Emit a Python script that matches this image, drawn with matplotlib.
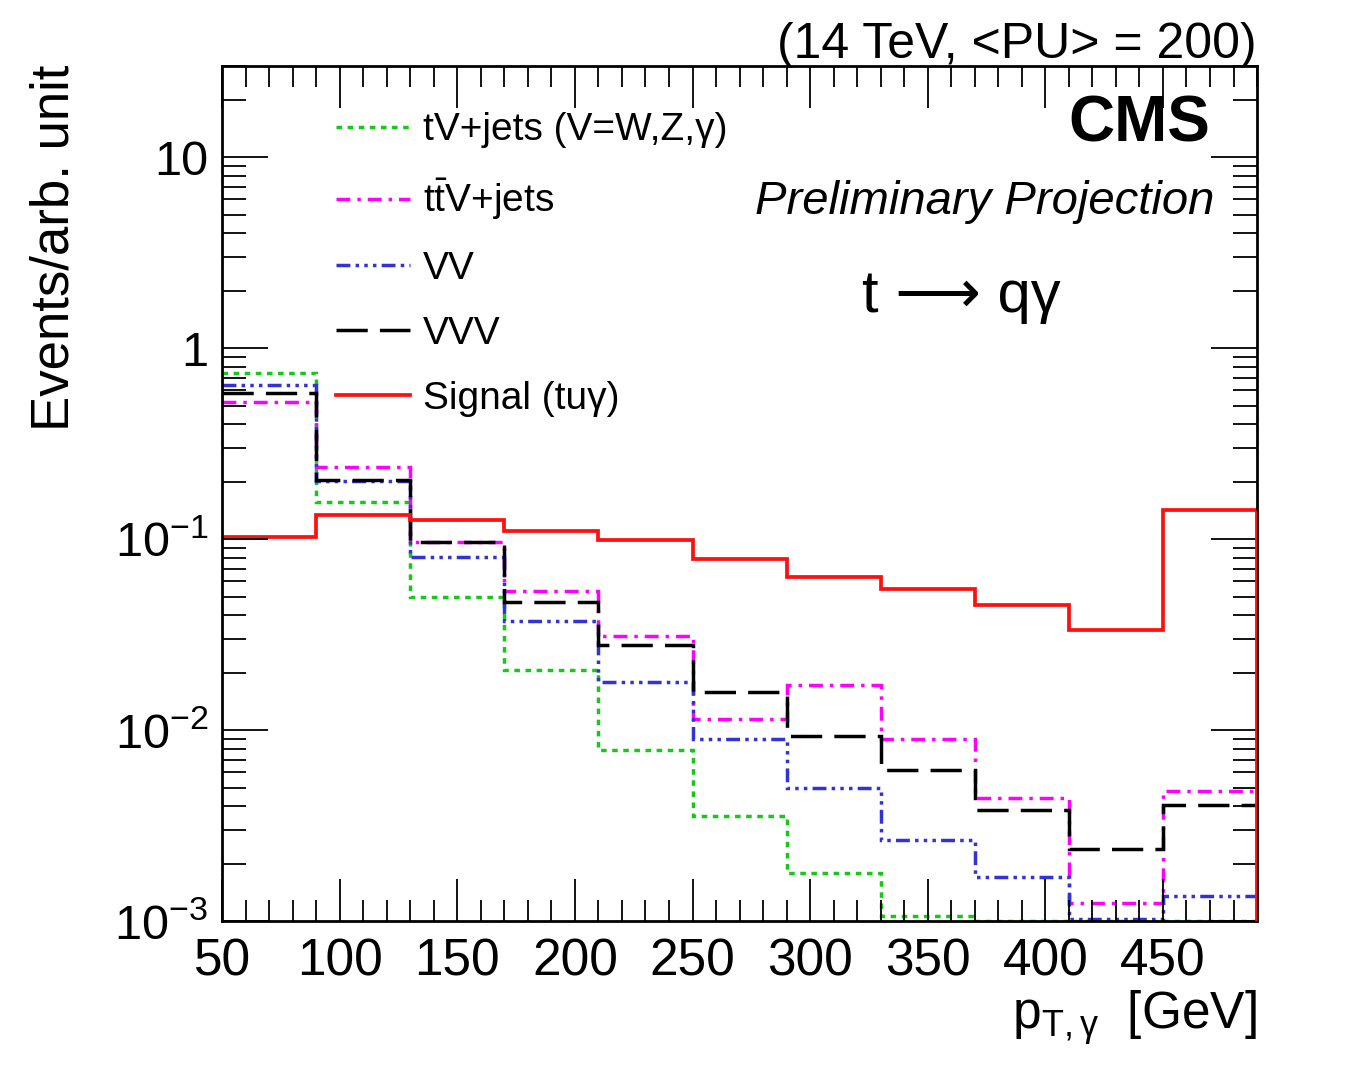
import numpy as np
import matplotlib
matplotlib.use("Agg")
import matplotlib.pyplot as plt
from matplotlib.ticker import FixedLocator, FuncFormatter, LogLocator, NullFormatter

plt.rcParams['font.family'] = ['Liberation Sans', 'DejaVu Sans']
plt.rcParams['mathtext.fontset'] = 'custom'
plt.rcParams['mathtext.rm'] = 'Liberation Sans'
plt.rcParams['mathtext.it'] = 'Liberation Sans:italic'

# photon pT bins (GeV)
edges = [50, 90, 130, 170, 210, 250, 290, 330, 370, 410, 450, 490]

tv_jets = [0.740, 0.156, 0.0498, 0.0206, 0.00785, 0.00354, 0.00178, 0.00106, 0.001, 0.001, 0.001]
ttv_jets = [0.523, 0.239, 0.0966, 0.0535, 0.0310, 0.0114, 0.0172, 0.00896, 0.00440, 0.00125, 0.00478]
vv = [0.642, 0.202, 0.0805, 0.0372, 0.0178, 0.00896, 0.00496, 0.00265, 0.00171, 0.00102, 0.00135]
vvv = [0.583, 0.204, 0.0966, 0.0468, 0.0279, 0.0158, 0.00929, 0.00616, 0.00380, 0.00237, 0.00403]
signal = [0.102, 0.134, 0.126, 0.110, 0.0989, 0.0787, 0.0632, 0.0547, 0.0451, 0.0334, 0.142]

labels = ["tV+jets (V=W,Z,γ)", r"t$\bar{\rm t}$V+jets", "VV", "VVV", "Signal (tuγ)"]

ymin, ymax = 1e-3, 30

fig = plt.figure(figsize=(13.64, 10.87), dpi=100)
ax = fig.add_axes([0.1628, 0.1527, 0.7588, 0.7866])

ax.stairs(tv_jets, edges, baseline=None, color='#18c818', lw=2.5,
          linestyle=(0, (1.6, 1.6)), label=labels[0])
ax.stairs(ttv_jets, edges, baseline=None, color='#ff00ff', lw=2.5,
          linestyle=(0, (4, 2, 1, 2)), label=labels[1])
ax.stairs(vv, edges, baseline=None, color='#3232d6', lw=2.5,
          linestyle=(0, (4, 1.5, 1, 1.5, 1, 1.5, 1, 1.5)), label=labels[2])
ax.stairs(vvv, edges, baseline=None, color='black', lw=2.5,
          linestyle=(0, (9, 3.5)), label=labels[3])
ax.stairs(signal, edges, baseline=None, color='#ff1010', lw=2.7, label=labels[4])
ax.vlines(edges[-1], ymin, signal[-1], color='#ff1010', lw=3.5, zorder=5)

ax.set_yscale('log')
ax.set_xlim(edges[0], edges[-1])
ax.set_ylim(ymin, ymax)

ax.xaxis.set_major_locator(FixedLocator(np.arange(50, 451, 50)))
ax.xaxis.set_minor_locator(FixedLocator(np.arange(50, 491, 10)))
ax.yaxis.set_major_locator(LogLocator(base=10, numticks=10))
ax.yaxis.set_minor_locator(LogLocator(base=10, subs=np.arange(2, 10), numticks=20))
ax.yaxis.set_minor_formatter(NullFormatter())


def ylab(v, pos):
    e = int(round(np.log10(v)))
    if e == 1:
        return "10"
    if e == 0:
        return "1"
    return r"$10^{%d}$" % e


ax.yaxis.set_major_formatter(FuncFormatter(ylab))

ax.tick_params(which='both', direction='in', top=True, right=True, width=1.3)
ax.tick_params(which='major', length=30, labelsize=37)
ax.tick_params(which='minor', length=15)
ax.tick_params(axis='y', which='major', length=33, pad=10, labelsize=35)
ax.tick_params(axis='y', which='minor', length=17)
ax.tick_params(axis='x', which='major', pad=12)
for s in ax.spines.values():
    s.set_linewidth(2)

leg = ax.legend(loc='upper left', bbox_to_anchor=(0.110, 0.946), frameon=False,
                fontsize=28, handlelength=1.9, handletextpad=0.33,
                labelspacing=0.74, borderpad=0, borderaxespad=0)

fig.text(55 / 1364, 1 - 65 / 1087, "Events/arb. unit", rotation=90,
         ha='center', va='top', fontsize=38)
fig.text(1257 / 1364, 1 - 1018 / 1087, r"p$_{\rm T,\gamma}$  [GeV]",
         ha='right', va='center', fontsize=37)
fig.text(1257 / 1364, 1 - 58 / 1087, "(14 TeV, <PU> = 200)",
         ha='right', va='baseline', fontsize=36)
fig.text(1210 / 1364, 1 - 125 / 1087, "CMS", ha='right', va='center',
         fontsize=46, fontweight='bold')
fig.text(1214 / 1364, 1 - 202 / 1087, "Preliminary Projection", ha='right',
         va='center', fontsize=34, style='italic')
fig.text(862 / 1364, 1 - 297 / 1087, "t ⟶ qγ", ha='left', va='center',
         fontsize=43)

fig.savefig("out.png", dpi=100)
